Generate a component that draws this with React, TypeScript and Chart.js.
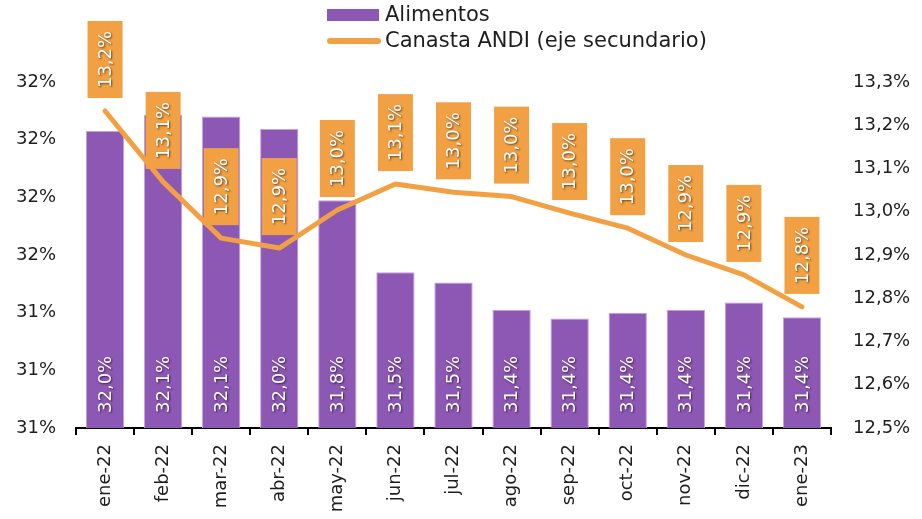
import React, { useEffect, useRef } from "react";
import { Chart, registerables } from "chart.js";

Chart.register(...registerables);

const categories = ["ene-22", "feb-22", "mar-22", "abr-22", "may-22", "jun-22", "jul-22", "ago-22", "sep-22", "oct-22", "nov-22", "dic-22", "ene-23"];
const alimentos = [32.03, 32.086, 32.08, 32.037, 31.79, 31.54, 31.505, 31.41, 31.38, 31.4, 31.41, 31.435, 31.384];
const canasta = [13.233, 13.069, 12.939, 12.916, 13.004, 13.064, 13.045, 13.035, 12.997, 12.962, 12.9, 12.854, 12.78];
const seriesNames = ["Alimentos", "Canasta ANDI (eje secundario)"];

const FONT = "'DejaVu Sans', sans-serif";
const PURPLE = "#8d57b4";
const ORANGE = "#f1a144";
const TEXT = "#1e1e1e";

const fmt1 = (v: number) => v.toFixed(1).replace(".", ",") + "%";

const customPlugin = {
  id: "customLabels",
  afterDatasetsDraw(chart: any) {
    const ctx = chart.ctx as CanvasRenderingContext2D;
    const area = chart.chartArea;
    // bar labels
    const barMeta = chart.getDatasetMeta(0);
    ctx.save();
    ctx.font = `18px ${FONT}`;
    ctx.fillStyle = "#ffffff";
    ctx.shadowColor = "rgba(0,0,0,0.6)";
    ctx.shadowOffsetX = 1;
    ctx.shadowOffsetY = 1;
    ctx.shadowBlur = 2;
    barMeta.data.forEach((el: any, i: number) => {
      ctx.save();
      ctx.translate(el.x, area.bottom - 15);
      ctx.rotate(-Math.PI / 2);
      ctx.textAlign = "left";
      ctx.textBaseline = "middle";
      ctx.fillText(fmt1(alimentos[i]), 0, 1);
      ctx.restore();
    });
    ctx.restore();

    // line labels
    const lineMeta = chart.getDatasetMeta(1);
    const bw = 35;
    const bh = 77;
    lineMeta.data.forEach((el: any, i: number) => {
      const bottom = el.y - 13;
      ctx.save();
      ctx.fillStyle = ORANGE;
      ctx.fillRect(el.x - bw / 2, bottom - bh, bw, bh);
      ctx.font = `18px ${FONT}`;
      ctx.fillStyle = "#ffffff";
      ctx.shadowColor = "rgba(0,0,0,0.6)";
      ctx.shadowOffsetX = 1;
      ctx.shadowOffsetY = 1;
      ctx.shadowBlur = 2;
      ctx.translate(el.x, bottom - bh / 2);
      ctx.rotate(-Math.PI / 2);
      ctx.textAlign = "center";
      ctx.textBaseline = "middle";
      ctx.fillText(fmt1(canasta[i]), 0, 1);
      ctx.restore();
    });
  },
  afterDraw(chart: any) {
    const ctx = chart.ctx as CanvasRenderingContext2D;
    ctx.save();
    ctx.fillStyle = PURPLE;
    ctx.fillRect(327, 9, 52, 12);
    ctx.strokeStyle = ORANGE;
    ctx.lineWidth = 6;
    ctx.lineCap = "round";
    ctx.beginPath();
    ctx.moveTo(330, 41);
    ctx.lineTo(378, 41);
    ctx.stroke();
    ctx.fillStyle = TEXT;
    ctx.font = `21px ${FONT}`;
    ctx.textAlign = "left";
    ctx.textBaseline = "middle";
    ctx.fillText(seriesNames[0], 385, 16);
    ctx.fillText(seriesNames[1], 385, 42);
    ctx.restore();
  },
};

export default function App() {
  const ref = useRef<HTMLCanvasElement | null>(null);
  useEffect(() => {
    if (!ref.current) return;
    const chart = new Chart(ref.current, {
      type: "bar",
      data: {
        labels: categories,
        datasets: [
          {
            type: "bar",
            label: seriesNames[0],
            data: alimentos,
            backgroundColor: PURPLE,
            borderColor: "#c4a3dc",
            borderWidth: 1,
            categoryPercentage: 1,
            barPercentage: 0.66,
            yAxisID: "y",
            order: 1,
          },
          {
            type: "line",
            label: seriesNames[1],
            data: canasta,
            borderColor: ORANGE,
            borderWidth: 5,
            pointRadius: 0,
            tension: 0,
            borderCapStyle: "round",
            borderJoinStyle: "round",
            yAxisID: "y1",
            order: 0,
          } as any,
        ],
      },
      options: {
        responsive: false,
        animation: false,
        layout: { padding: { top: 82, left: 0, right: 0, bottom: 0 } },
        plugins: { legend: { display: false }, tooltip: { enabled: false } },
        scales: {
          x: {
            grid: {
              display: true,
              drawOnChartArea: false,
              drawTicks: true,
              tickLength: 7,
              color: "#000",
              lineWidth: 2,
              offset: true,
            },
            border: { display: true, color: "#000", width: 2 },
            ticks: {
              minRotation: 90,
              maxRotation: 90,
              padding: 9,
              color: TEXT,
              font: { family: FONT, size: 18 },
            },
            afterFit: (s: any) => {
              s.height = 91;
            },
          },
          y: {
            position: "left",
            min: 31,
            max: 32.2,
            grid: { display: false, drawTicks: false },
            border: { display: false },
            ticks: {
              stepSize: 0.2,
              padding: 20,
              color: TEXT,
              font: { family: FONT, size: 18 },
              callback: (v: any) => Math.round(Number(v)) + "%",
            },
            afterFit: (s: any) => {
              s.width = 76;
            },
          },
          y1: {
            position: "right",
            min: 12.5,
            max: 13.3,
            grid: { display: false, drawTicks: false },
            border: { display: false },
            ticks: {
              stepSize: 0.1,
              padding: 22,
              color: TEXT,
              font: { family: FONT, size: 18 },
              callback: (v: any) => fmt1(Number(v)),
            },
            afterFit: (s: any) => {
              s.width = 91;
            },
          },
        },
      },
      plugins: [customPlugin],
    } as any);
    return () => chart.destroy();
  }, []);
  return (
    <div style={{ position: "absolute", left: 0, top: 0, width: 922, height: 519, background: "#fff" }}>
      <canvas ref={ref} width={922} height={519} style={{ width: 922, height: 519, display: "block" }} />
    </div>
  );
}
